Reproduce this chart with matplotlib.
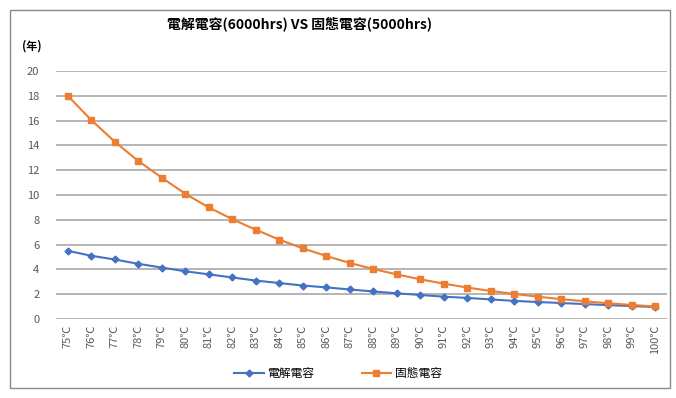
import numpy as np
import matplotlib.pyplot as plt
from matplotlib.patches import Rectangle

plt.rcParams['font.family'] = ['Noto Sans CJK TC', 'DejaVu Sans']

temps = ["%d℃" % t for t in range(75, 101)]
# 電解電容 (6000hrs), years
elec = [5.5, 5.1, 4.8, 4.45, 4.15, 3.85, 3.6, 3.35, 3.1, 2.9, 2.7, 2.55, 2.38,
        2.22, 2.07, 1.94, 1.8, 1.7, 1.58, 1.46, 1.37, 1.29, 1.2, 1.12, 1.04, 0.97]
# 固態電容 (5000hrs), years
solid = [18.0, 16.05, 14.3, 12.75, 11.4, 10.1, 9.0, 8.05, 7.2, 6.4, 5.7, 5.08, 4.52,
         4.03, 3.6, 3.2, 2.85, 2.54, 2.26, 2.02, 1.8, 1.6, 1.43, 1.27, 1.13, 1.01]

fig = plt.figure(figsize=(6.76, 3.98), dpi=100)
ax = fig.add_axes([0.0828, 0.1985, 0.9039, 0.6231])

x = np.arange(len(temps))
ax.plot(x, elec, color='#4472C4', marker='D', markersize=3.5, linewidth=1.5, label='電解電容')
ax.plot(x, solid, color='#ED7D31', marker='s', markersize=5, linewidth=1.5, label='固態電容')

ax.set_xlim(-0.5, len(temps) - 0.5)
ax.set_ylim(0, 20)
ax.set_yticks(np.arange(0, 21, 2))
ax.set_xticks(x)
ax.set_xticklabels(temps, rotation=90, fontsize=8, color='#595959')
ax.tick_params(axis='y', labelsize=8, colors='#595959', length=0, pad=12)
ax.tick_params(axis='x', length=0, pad=4)
ax.grid(axis='y', color='#A0A0A0', linewidth=1.1)
ax.set_axisbelow(True)
for s in ax.spines.values():
    s.set_visible(False)

fig.text(0.443, 0.94, '電解電容(6000hrs) VS 固態電容(5000hrs)', ha='center', va='center',
         fontsize=10, fontweight='bold', color='#000000')
fig.text(0.047, 0.885, '(年)', ha='center', va='center', fontsize=8, fontweight='bold')

fig.legend(loc='center', bbox_to_anchor=(0.5, 0.062), ncol=2, frameon=False,
           fontsize=8.5, columnspacing=4, handlelength=2.5, handletextpad=0.3)

fig.add_artist(Rectangle((10 / 676, 10 / 398), 660 / 676, 378 / 398, transform=fig.transFigure,
                         fill=False, edgecolor='#898989', linewidth=1))

fig.savefig('out.png', dpi=100)
